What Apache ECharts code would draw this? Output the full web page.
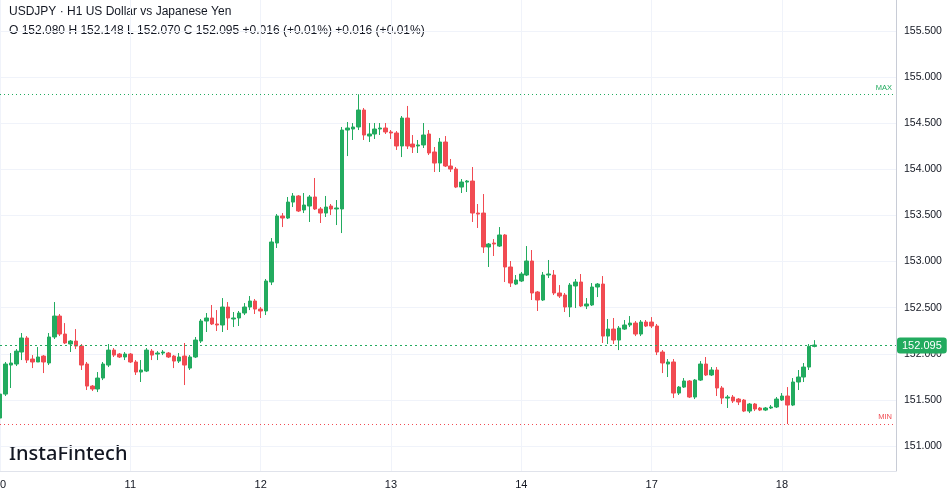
<!DOCTYPE html>
<html>
<head>
<meta charset="utf-8">
<script src="https://cdn.jsdelivr.net/npm/echarts@6/dist/echarts.min.js"></script>
<style>
html,body{margin:0;padding:0;background:#fff;}
#c{width:949px;height:494px;}
</style>
</head>
<body>
<div id="c"></div>
<script>
// ---- data ----
var dayLabels = ['10', '11', '12', '13', '14', '17', '18'];
var barsPerDay = 24;
var totalSlots = 166;
var yTicks = [151.0, 151.5, 152.0, 152.5, 153.0, 153.5, 154.0, 154.5, 155.0, 155.5];
var maxLevel = 154.814;
var minLevel = 151.238;
var lastPrice = 152.095;
var titleLine = 'USDJPY \u00b7 H1 US Dollar vs Japanese Yen';
var ohlcLine = 'O 152.080 H 152.148 L 152.070 C 152.095 +0.016 (+0.01%) +0.016 (+0.01%)';

var opens = [151.303,151.563,151.878,151.889,152.019,152.171,151.943,151.911,151.975,151.900,
152.182,152.409,152.214,152.106,152.138,152.084,151.889,151.650,151.618,151.737,
151.878,152.040,151.997,151.965,151.997,151.911,151.802,151.813,152.029,151.997,
152.008,152.008,151.975,151.921,151.975,151.845,151.965,152.138,152.355,152.388,
152.323,152.312,152.507,152.377,152.388,152.442,152.507,152.572,152.485,152.464,
152.778,153.201,153.494,153.472,153.645,153.711,153.559,153.602,153.700,153.570,
153.526,153.602,153.570,153.570,154.426,154.437,154.459,154.643,154.361,154.383,
154.437,154.448,154.405,154.394,154.253,154.556,154.274,154.253,154.264,154.383,
154.188,154.068,154.296,154.036,154.003,153.808,153.862,153.873,153.526,153.526,
153.158,153.201,153.168,153.288,152.941,152.756,152.789,152.854,153.006,152.670,
152.583,152.854,152.854,152.659,152.637,152.507,152.735,152.778,152.518,152.529,
152.724,152.756,152.192,152.268,152.149,152.268,152.312,152.333,152.214,152.344,
152.344,152.301,152.019,151.889,151.911,151.574,151.639,151.705,151.531,151.715,
151.889,151.770,151.824,151.629,151.520,151.531,151.509,151.498,151.379,151.455,
151.412,151.390,151.412,151.423,151.498,151.542,151.444,151.694,151.748,151.856,
152.080];
var closes = [151.563,151.889,151.900,152.029,152.171,151.932,151.911,151.965,151.911,152.182,
152.409,152.214,152.117,152.138,152.084,151.878,151.650,151.618,151.737,151.889,
152.040,151.986,151.965,151.997,151.911,151.802,151.824,152.040,151.986,152.008,
152.019,151.965,151.921,151.965,151.878,151.965,152.149,152.355,152.388,152.323,
152.312,152.507,152.388,152.388,152.442,152.507,152.572,152.485,152.464,152.789,
153.212,153.494,153.472,153.645,153.711,153.548,153.613,153.700,153.570,153.526,
153.591,153.570,153.581,154.426,154.448,154.459,154.643,154.372,154.383,154.437,
154.448,154.405,154.394,154.253,154.556,154.253,154.242,154.264,154.372,154.177,
154.068,154.296,154.036,154.003,153.808,153.862,153.873,153.526,153.515,153.158,
153.190,153.190,153.288,152.941,152.767,152.800,152.865,153.006,152.659,152.583,
152.854,152.865,152.659,152.626,152.507,152.745,152.778,152.518,152.540,152.724,
152.756,152.192,152.268,152.149,152.279,152.312,152.333,152.214,152.344,152.301,
152.301,152.019,151.900,151.911,151.574,151.639,151.705,151.531,151.715,151.889,
151.770,151.824,151.629,151.520,151.531,151.488,151.477,151.379,151.455,151.401,
151.390,151.412,151.423,151.509,151.542,151.444,151.694,151.748,151.856,152.080,
152.095];
var lows = [151.271,151.542,151.629,151.867,151.932,151.900,151.845,151.911,151.791,151.878,
152.160,152.192,152.106,152.019,152.051,151.824,151.607,151.596,151.585,151.715,
151.856,151.965,151.954,151.932,151.900,151.770,151.694,151.802,151.932,151.932,
151.986,151.954,151.845,151.900,151.661,151.824,151.954,152.117,152.236,152.312,
152.247,152.236,152.258,152.290,152.301,152.420,152.474,152.431,152.388,152.420,
152.745,153.147,153.374,153.461,153.591,153.537,153.526,153.429,153.559,153.418,
153.483,153.505,153.396,153.309,154.144,154.318,154.426,154.318,154.296,154.329,
154.372,154.383,154.329,154.210,154.133,154.220,154.177,154.177,154.231,154.155,
153.971,153.971,154.025,153.971,153.797,153.743,153.754,153.429,153.364,153.093,
152.941,153.060,153.158,152.778,152.724,152.745,152.778,152.843,152.583,152.464,
152.572,152.821,152.637,152.605,152.453,152.398,152.496,152.507,152.485,152.518,
152.615,152.117,152.106,152.106,152.040,152.258,152.290,152.192,152.192,152.290,
152.279,151.986,151.791,151.748,151.520,151.553,151.629,151.520,151.509,151.705,
151.759,151.759,151.542,151.455,151.412,151.466,151.444,151.368,151.357,151.379,
151.379,151.379,151.401,151.412,151.488,151.238,151.433,151.607,151.694,151.824,
152.070];
var highs = [151.585,151.911,152.008,152.051,152.225,152.192,151.986,152.073,151.986,152.225,
152.561,152.431,152.333,152.149,152.268,152.106,151.911,151.661,151.802,151.911,
152.106,152.062,152.008,152.019,152.008,151.932,151.932,152.062,152.051,152.029,
152.040,152.019,151.986,152.008,152.117,151.986,152.182,152.377,152.442,152.529,
152.474,152.604,152.561,152.453,152.464,152.550,152.626,152.594,152.507,152.811,
153.255,153.515,153.526,153.700,153.743,153.721,153.743,153.721,153.906,153.591,
153.711,153.624,153.667,154.459,154.513,154.502,154.814,154.665,154.502,154.502,
154.502,154.502,154.426,154.415,154.578,154.687,154.372,154.318,154.502,154.426,
154.242,154.340,154.361,154.112,154.025,153.895,153.884,154.025,153.624,153.732,
153.201,153.244,153.374,153.298,153.006,152.854,152.887,153.168,153.125,152.680,
152.887,153.017,152.908,152.745,152.659,152.767,152.811,152.865,152.604,152.767,
152.767,152.843,152.377,152.388,152.301,152.366,152.409,152.355,152.366,152.366,
152.398,152.323,152.040,151.943,151.943,151.650,151.737,151.715,151.726,151.921,
151.965,151.856,151.856,151.650,151.553,151.553,151.520,151.509,151.466,151.466,
151.423,151.423,151.444,151.531,151.574,151.639,151.737,151.824,151.900,152.106,
152.148];

// ---- build ----
var UP = '#22ab5f', DOWN = '#f14b52';
var cats = [];
for (var i = 0; i < totalSlots; i++) {
  var d = Math.floor(i / barsPerDay);
  cats.push(i % barsPerDay === 0 && d < dayLabels.length ? dayLabels[d] : '');
}
var candles = opens.map(function (o, k) { return [o, closes[k], lows[k], highs[k]]; });
function isDayStart(idx) { return idx % barsPerDay === 0 && Math.floor(idx / barsPerDay) < dayLabels.length; }

var chart = echarts.init(document.getElementById('c'), null, {renderer: 'canvas'});
chart.setOption({
  animation: false,
  backgroundColor: '#ffffff',
  grid: {left: 0, right: 53, top: 0, bottom: 23, containLabel: false, outerBoundsMode: 'none'},
  xAxis: {
    type: 'category',
    data: cats,
    boundaryGap: false,
    axisLine: {show: true, lineStyle: {color: '#e0e3eb'}},
    axisTick: {show: false},
    axisLabel: {
      interval: function (idx) { return isDayStart(idx); },
      color: '#131722', fontSize: 11, fontFamily: 'Liberation Sans', margin: 8,
      hideOverlap: false
    },
    splitLine: {
      show: true,
      interval: function (idx) { return isDayStart(idx); },
      lineStyle: {color: '#f0f3fa', width: 1}
    }
  },
  yAxis: {
    type: 'value',
    position: 'right',
    min: 150.729,
    max: 155.836,
    scale: true,
    axisLine: {show: true, lineStyle: {color: '#c8ccd6'}},
    axisTick: {show: false, customValues: yTicks},
    axisLabel: {
      customValues: yTicks,
      color: '#131722', fontSize: 10.5, fontFamily: 'Liberation Sans', margin: 8,
      formatter: function (v) { return v.toFixed(3); }
    },
    splitLine: {show: true, lineStyle: {color: '#f0f3fa', width: 1}}
  },
  graphic: [
    {type: 'text', left: 9, top: 6, style: {text: titleLine, fill: '#131722', font: '12px "Liberation Sans", Arial, sans-serif'}},
    {type: 'text', left: 9, top: 25, style: {text: ohlcLine, fill: '#131722', font: '12px "Liberation Sans", Arial, sans-serif'}},
    {type: 'text', left: 9, top: 444, style: {text: 'InstaFintech', fill: '#131722', font: '500 20px "Noto Sans", sans-serif'}}
  ],
  series: [{
    type: 'candlestick',
    data: candles,
    barWidth: 4,
    itemStyle: {color: UP, color0: DOWN, borderColor: UP, borderColor0: DOWN, borderWidth: 1},
    markLine: {
      symbol: ['none', 'none'],
      silent: true,
      animation: false,
      data: [
        {yAxis: maxLevel, lineStyle: {color: UP, type: [1, 3], width: 1},
         label: {show: true, position: 'insideEndTop', formatter: 'MAX', color: UP, fontSize: 7.5, fontFamily: 'Liberation Sans', distance: [4, 3]}},
        {yAxis: minLevel, lineStyle: {color: DOWN, type: [1, 3], width: 1},
         label: {show: true, position: 'insideEndTop', formatter: 'MIN', color: DOWN, fontSize: 7.5, fontFamily: 'Liberation Sans', distance: [4, 3]}},
        {yAxis: lastPrice, lineStyle: {color: UP, type: [2, 3], width: 1},
         label: {show: true, position: 'end', formatter: function () { return lastPrice.toFixed(3); },
                 color: '#ffffff', backgroundColor: UP, borderRadius: 3, padding: [3, 5, 2, 5],
                 fontSize: 11, fontFamily: 'Liberation Sans', distance: 1}}
      ]
    }
  }]
});
</script>
</body>
</html>
